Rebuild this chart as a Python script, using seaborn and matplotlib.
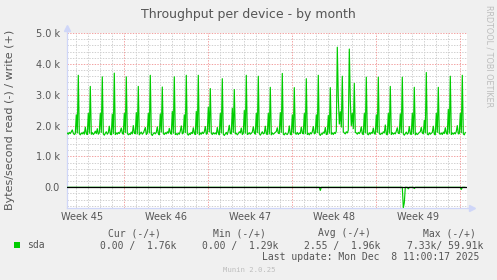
import matplotlib
matplotlib.use("Agg")
import matplotlib.pyplot as plt
import seaborn as sns
import numpy as np
import pandas as pd

sns.set_style("white")
plt.rcParams['font.family'] = ['DejaVu Sans']

# ---- data (values in thousands of bytes/second), 2-hour samples ----
# time origin: Monday Nov 3 00:00 (start of Week 45), unit = days
t_start = 2.25          # first sample: Nov 5 06:00
step_days = 2.0 / 24.0

write_k = (
    [1.76, 1.72, 1.78, 1.74, 1.80, 1.86, 1.75, 1.71, 1.74] +                      # day 2 (partial)
    [2.35, 1.76, 3.63, 1.74, 1.70, 1.76, 1.73, 1.79, 1.72, 1.95, 1.74, 1.71] +    # day 3
    [2.40, 1.75, 3.27, 1.72, 1.77, 1.71, 1.75, 1.82, 1.74, 1.90, 1.72, 1.76] +    # day 4
    [2.40, 1.78, 3.58, 1.73, 1.69, 1.75, 1.80, 1.72, 1.77, 1.98, 1.73, 1.70] +    # day 5
    [2.37, 1.74, 3.70, 1.71, 1.76, 1.72, 1.78, 1.74, 1.81, 1.92, 1.75, 1.72] +    # day 6
    [2.40, 1.77, 3.58, 1.75, 1.70, 1.74, 1.71, 1.79, 1.73, 2.00, 1.76, 1.73] +    # day 7
    [2.42, 1.73, 3.27, 1.70, 1.75, 1.79, 1.72, 1.76, 1.84, 1.94, 1.71, 1.75] +    # day 8
    [2.40, 1.76, 3.63, 1.72, 1.68, 1.74, 1.77, 1.73, 1.78, 1.96, 1.74, 1.70] +    # day 9
    [2.38, 1.79, 3.25, 1.74, 1.71, 1.77, 1.73, 1.80, 1.75, 1.91, 1.77, 1.72] +    # day 10
    [2.46, 1.75, 3.58, 1.71, 1.74, 1.70, 1.76, 1.72, 1.82, 1.99, 1.73, 1.76] +    # day 11
    [2.35, 1.77, 3.63, 1.73, 1.69, 1.75, 1.71, 1.78, 1.74, 1.93, 1.75, 1.71] +    # day 12
    [2.46, 1.74, 3.63, 1.70, 1.76, 1.72, 1.79, 1.74, 1.80, 1.97, 1.72, 1.74] +    # day 13
    [2.60, 1.80, 3.20, 1.75, 1.71, 1.77, 1.73, 1.76, 1.72, 1.94, 1.76, 1.70] +    # day 14
    [2.40, 1.76, 3.52, 1.72, 1.68, 1.73, 1.78, 1.71, 1.83, 2.01, 1.74, 1.73] +    # day 15
    [2.56, 1.78, 3.17, 1.73, 1.75, 1.70, 1.74, 1.80, 1.76, 1.92, 1.71, 1.75] +    # day 16
    [2.49, 1.75, 3.63, 1.71, 1.73, 1.77, 1.72, 1.75, 1.79, 1.96, 1.77, 1.72] +    # day 17
    [2.40, 1.77, 3.60, 1.74, 1.69, 1.74, 1.80, 1.73, 1.75, 1.98, 1.73, 1.71] +    # day 18
    [2.40, 1.73, 3.24, 1.70, 1.76, 1.72, 1.75, 1.78, 1.81, 1.93, 1.75, 1.74] +    # day 19
    [2.42, 1.78, 3.69, 1.72, 1.70, 1.76, 1.73, 1.71, 1.77, 1.99, 1.72, 1.70] +    # day 20
    [2.35, 1.76, 3.23, 1.74, 1.72, 1.78, 1.71, 1.76, 1.74, 1.95, 1.76, 1.73] +    # day 21
    [2.40, 1.74, 3.52, 1.71, 1.75, 1.70, 1.77, 1.73, 1.80, 1.97, 1.73, 1.75] +    # day 22
    [2.35, 1.77, 3.63, 1.73, 1.68, 1.74, 1.72, 1.79, 1.75, 1.94, 1.71, 1.72] +    # day 23
    [2.33, 1.75, 3.23, 1.72, 1.76, 1.71, 1.78, 1.74, 1.82, 4.54, 2.90, 2.05] +    # day 24
    [2.45, 1.95, 3.60, 1.80, 1.76, 1.73, 1.80, 1.76, 1.85, 4.48, 2.80, 2.00] +    # day 25
    [2.40, 1.90, 3.37, 1.78, 1.76, 1.72, 1.78, 1.74, 1.80, 1.96, 1.73, 1.71] +    # day 26
    [2.40, 1.76, 3.57, 1.73, 1.70, 1.77, 1.72, 1.78, 1.75, 1.92, 1.74, 1.72] +    # day 27
    [2.35, 1.78, 3.57, 1.74, 1.71, 1.75, 1.73, 1.80, 1.76, 2.02, 1.72, 1.70] +    # day 28
    [2.40, 1.75, 3.27, 1.71, 1.77, 1.72, 1.76, 1.73, 1.82, 1.93, 1.75, 1.74] +    # day 29
    [2.38, 1.77, 3.57, 1.73, 1.69, 1.74, 1.79, 1.72, 1.76, 1.97, 1.73, 1.71] +    # day 30
    [2.40, 1.74, 3.24, 1.70, 1.75, 1.71, 1.74, 1.78, 1.80, 1.94, 1.76, 1.73] +    # day 31
    [2.17, 1.76, 3.72, 1.72, 1.70, 1.77, 1.72, 1.75, 1.78, 1.98, 1.72, 1.70] +    # day 32
    [2.40, 1.78, 3.24, 1.74, 1.72, 1.76, 1.71, 1.79, 1.74, 1.93, 1.75, 1.72] +    # day 33
    [2.53, 1.75, 3.60, 1.71, 1.76, 1.72, 1.77, 1.73, 1.81, 2.00, 1.73, 1.74] +    # day 34
    [2.40, 1.77, 3.63, 1.73, 1.70, 1.78]                                          # day 35 (partial)
)

# read series is zero except for these samples (day + 2h-slot/12)
read_dip_t = [23 + 4 / 12, 30 + 3 / 12, 30 + 4 / 12, 30 + 8 / 12, 31 + 2 / 12, 35 + 1 / 12]
read_dip_v = [-0.10, -0.66, -0.50, -0.05, -0.04, -0.07]

week_labels = ["Week 45", "Week 46", "Week 47", "Week 48", "Week 49"]
week_starts = [0, 7, 14, 21, 28, 35]
y_ticks = [0, 1, 2, 3, 4, 5]
y_tick_labels = ["0.0", "1.0 k", "2.0 k", "3.0 k", "4.0 k", "5.0 k"]

legend_headers = ["Cur (-/+)", "Min (-/+)", "Avg (-/+)", "Max (-/+)"]
legend_values = ["0.00 /  1.76k", "0.00 /  1.29k", "2.55 /  1.96k", "7.33k/ 59.91k"]

# ---- build frame ----
n = len(write_k)
t = [t_start + k * step_days for k in range(n)]
read_k = [0.0] * n
for tv, vv in zip(read_dip_t, read_dip_v):
    idx = int(round((tv - t_start) / step_days))
    read_k[idx] = vv
df = pd.DataFrame({"t": t, "write": write_k, "read": read_k})

W, H = 497, 280
fig = plt.figure(figsize=(W / 100, H / 100), dpi=100, facecolor="#F0F0F0")
px = lambda x: x / W
py = lambda y: 1 - y / H

left, right, top, bottom = 67, 467, 33, 208.3
ax = fig.add_axes([px(left), py(bottom), (right - left) / W, (bottom - top) / H])
ax.set_facecolor("white")

xmin, xmax = 2.225, 35.558
ymin, ymax = -0.68, 5.0
ax.set_xlim(xmin, xmax)
ax.set_ylim(ymin, ymax)

GREEN = "#00CC00"
minor_c = "#cfcfcf"
major_c = "#f2a0a0"
dot = (0, (1.4, 1.4))

# grid
for d in range(3, 36):
    if d % 7 == 0:
        continue
    ax.axvline(d, color=minor_c, lw=0.7, ls=dot, zorder=1)
for k in range(-3, 25):
    v = k * 0.2
    if abs(v - round(v)) < 1e-6:
        continue
    ax.axhline(v, color=minor_c, lw=0.7, ls=dot, zorder=1)
for d in week_starts[1:]:
    ax.axvline(d, color=major_c, lw=0.7, ls=dot, zorder=1.5)
for v in y_ticks[1:]:
    ax.axhline(v, color=major_c, lw=0.7, ls=dot, zorder=1.5)

# data
sns.lineplot(data=df, x="t", y="write", ax=ax, color=GREEN, lw=0.85,
             estimator=None, sort=False, zorder=3)
sns.lineplot(data=df, x="t", y="read", ax=ax, color=GREEN, lw=0.85,
             estimator=None, sort=False, zorder=3)
ax.axhline(0, color="black", lw=0.9, zorder=4)

# axes
for s in ["top", "right"]:
    ax.spines[s].set_visible(False)
AX_C = "#CFD6F8"
for s in ["left", "bottom"]:
    ax.spines[s].set_color(AX_C)
    ax.spines[s].set_linewidth(0.9)
ax.plot([0], [1.03], marker="^", ms=4, color=AX_C, transform=ax.transAxes, clip_on=False)
ax.plot([0, 0], [1.0, 1.03], color=AX_C, lw=0.9, transform=ax.transAxes, clip_on=False)
ax.plot([1.0, 1.012], [0, 0], color=AX_C, lw=0.9, transform=ax.transAxes, clip_on=False)
ax.plot([1.012], [0], marker=">", ms=4, color=AX_C, transform=ax.transAxes, clip_on=False)

TXT = "#555555"
ax.set_yticks(y_ticks)
ax.set_yticklabels(y_tick_labels)
ax.set_xticks([w + 3.5 for w in week_starts[:5]])
ax.set_xticklabels(week_labels)
ax.tick_params(axis="y", length=0, pad=5, labelsize=7, labelcolor=TXT)
ax.tick_params(axis="x", length=0, pad=3, labelsize=7, labelcolor=TXT)
ax.set_xlabel("")
ax.set_ylabel("")

# texts
fig.text(px(248.5), py(18.3), "Throughput per device - by month", ha="center",
         va="baseline", fontsize=9, color=TXT)
fig.text(px(10.5), py(120), "Bytes/second read (-) / write (+)", rotation=90,
         ha="center", va="center", fontsize=8, color=TXT)
fig.text(px(488.5), py(56.5), "RRDTOOL / TOBI OETIKER", rotation=270,
         ha="center", va="center", fontsize=5.8, color="#bdbdbd")

mono = "DejaVu Sans Mono"
hx = [107.7, 213, 318, 423]
vx = [100, 201.7, 304, 406.7]
for x, s in zip(hx, legend_headers):
    fig.text(px(x), py(236.5), s, family=mono, fontsize=7, color=TXT, va="baseline")
for x, s in zip(vx, legend_values):
    fig.text(px(x), py(248.5), s, family=mono, fontsize=7, color=TXT, va="baseline")
fig.patches.append(plt.Rectangle((px(14), py(248)), 6 / W, 6 / H, transform=fig.transFigure,
                                 facecolor=GREEN, edgecolor="none"))
fig.text(px(26.7), py(248.5), "sda", family=mono, fontsize=7, color=TXT, va="baseline")
fig.text(px(261.7), py(260), "Last update: Mon Dec  8 11:00:17 2025", family=mono,
         fontsize=7, color=TXT, va="baseline")
fig.text(px(222.7), py(271.5), "Munin 2.0.25", family=mono, fontsize=5.2,
         color="#bdbdbd", va="baseline")

fig.savefig("out.png", dpi=100, facecolor=fig.get_facecolor())
